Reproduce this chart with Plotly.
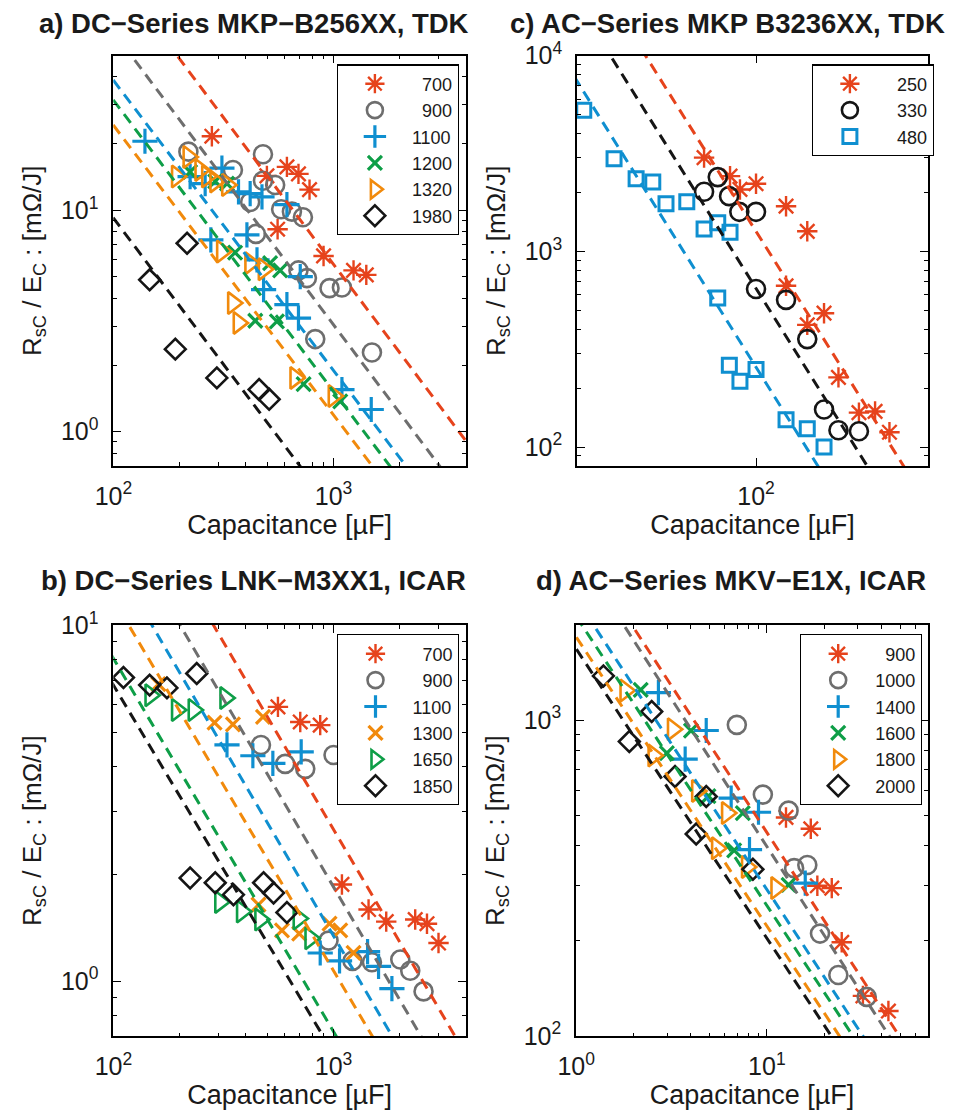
import numpy as np
import plotly.graph_objects as go

FONT = "Arial, Liberation Sans, Helvetica, sans-serif"
RED = "#E6431C"
GRAY = "#6E6E6E"
BLUE = "#0F8FD0"
GREEN = "#0E9E47"
ORANGE = "#F18A0C"
BLACK = "#151515"
FS = "\u2007"  # figure space, pads legend numbers so they line up on the right

# ---------------- Panel a) DC-Series MKP-B256XX, TDK ----------------
a_700_C = [280, 498, 614, 693, 778, 557, 901, 1233, 1409]
a_700_R = [21.6, 14.3, 15.7, 14.6, 12.4, 8.21, 6.22, 5.35, 5.11]
a_900_C = [219, 349, 478, 478, 543, 418, 578, 647, 726, 444, 693, 757, 959, 1092, 826, 1495]
a_900_R = [18.4, 15.2, 17.9, 13.6, 13.0, 10.9, 10.1, 9.86, 9.3, 7.82, 5.35, 4.94, 4.45, 4.48, 2.62, 2.28]
a_1100_C = [139, 223, 311, 261, 370, 418, 473, 614, 404, 277, 449, 481, 614, 693, 706, 1092, 1484]
a_1100_R = [20.5, 14.2, 15.5, 13.2, 12.1, 11.9, 11.5, 10.6, 7.74, 7.35, 5.97, 4.38, 3.75, 3.26, 5.02, 1.55, 1.26]
a_1200_C = [223, 290, 328, 357, 515, 572, 441, 553, 731, 1073]
a_1200_R = [14.9, 13.5, 13.2, 6.44, 5.77, 5.35, 3.17, 3.15, 1.64, 1.37]
a_1320_C = [194, 219, 248, 266, 290, 328, 311, 418, 481, 349, 370, 670, 1000]
a_1320_R = [14.2, 17.4, 15.2, 14.2, 13.5, 13.0, 6.51, 5.77, 5.42, 3.81, 3.10, 1.75, 1.45]
a_1980_C = [216, 146, 191, 295, 459, 510]
a_1980_R = [7.10, 4.85, 2.36, 1.75, 1.55, 1.40]
# fit lines: R = k * (C / 1000) ** (-n)
a_fit_k = [5.70, 3.04, 1.89, 1.52, 1.19, 0.44]
a_fit_n = [1.326, 1.323, 1.310, 1.315, 1.308, 1.321]
a_names = ["700", "900", "1100", "1200", "1320", "1980"]

# ---------------- Panel b) DC-Series LNK-M3XX1, ICAR ----------------
b_700_C = [559, 706, 870, 1092, 1443, 1736, 2351, 2659, 3000]
b_700_R = [5.90, 5.35, 5.24, 1.87, 1.59, 1.47, 1.49, 1.45, 1.28]
b_900_C = [468, 603, 744, 1000, 949, 1220, 1495, 2011, 2232, 2565]
b_900_R = [4.61, 4.08, 3.95, 4.32, 1.30, 1.14, 1.13, 1.15, 1.07, 0.936]
b_1100_C = [328, 430, 530, 713, 870, 1065, 1428, 1602, 1842]
b_1100_R = [4.61, 4.30, 4.09, 4.41, 1.20, 1.14, 1.21, 1.10, 0.953]
b_1300_C = [160, 288, 349, 478, 456, 583, 698, 959, 1073, 1233]
b_1300_R = [6.83, 5.33, 5.27, 5.53, 1.64, 1.39, 1.36, 1.45, 1.39, 1.20]
b_1650_C = [147, 194, 231, 322, 305, 383, 464, 693, 784]
b_1650_R = [6.36, 5.78, 5.78, 6.25, 1.67, 1.57, 1.49, 1.50, 1.32]
b_1850_C = [111, 146, 175, 239, 223, 290, 351, 481, 534, 614]
b_1850_R = [7.13, 6.79, 6.67, 7.32, 1.95, 1.89, 1.75, 1.89, 1.77, 1.56]
b_fit_k = [2.67, 1.84, 1.34, 1.07, 0.722, 0.626]
b_fit_n = [1.052, 1.055, 1.058, 1.043, 1.048, 1.035]
b_names = ["700", "900", "1100", "1300", "1650", "1850"]

# ---------------- Panel c) AC-Series MKP B3236XX, TDK ----------------
c_250_C = [62.1, 78.8, 86.3, 100, 131.7, 160, 131.7, 160, 186.6, 213, 257, 298, 340]
c_250_R = [3013, 2424, 2072, 2216, 1701, 1266, 667, 421, 483, 227, 150, 152, 119]
c_330_C = [62.1, 70.4, 78.1, 85.8, 100, 100, 131.7, 160, 186.6, 213, 257]
c_330_R = [2017, 2395, 1915, 1592, 1592, 642, 565, 356, 155.5, 121.8, 120.4]
c_480_C = [20.6, 27.2, 33.3, 38.8, 43.8, 53.0, 62.1, 70.4, 78.8, 70.4, 78.3, 86.3, 100, 131.7, 160, 186.6]
c_480_R = [5266, 2977, 2351, 2259, 1750, 1792, 1302, 1399, 1251, 577, 262, 217, 249, 138, 124, 100]
# fit lines: R = k * (C / 100) ** (-n)
c_fit_k = [1265, 647, 256]
c_fit_n = [2.04, 2.05, 2.05]
c_names = ["250", "330", "480"]

# ---------------- Panel d) AC-Series MKV-E1X, ICAR ----------------
d_900_C = [12.6, 17.0, 18.4, 21.9, 24.7, 31.9, 43.4]
d_900_R = [492, 453, 299, 294, 198, 134, 120]
d_1000_C = [6.96, 9.53, 13.0, 13.9, 16.3, 19.0, 23.7, 33.4]
d_1000_R = [966, 581, 517, 340, 348, 211, 156, 133]
d_1400_C = [2.70, 4.81, 3.73, 6.50, 9.04, 8.11, 15.9]
d_1400_R = [1222, 927, 753, 566, 511, 389, 305]
d_1600_C = [2.18, 4.00, 2.99, 4.94, 7.48, 6.74, 13.0]
d_1600_R = [1247, 927, 786, 575, 508, 387, 301]
d_1800_C = [1.81, 3.21, 2.54, 4.30, 6.17, 5.47, 7.85, 11.2]
d_1800_R = [1241, 936, 773, 597, 508, 393, 343, 294]
d_2000_C = [1.39, 2.49, 1.90, 3.30, 4.81, 4.26, 8.45]
d_2000_R = [1380, 1064, 855, 663, 573, 436, 337]
# fit lines: R = k * (C / 10) ** (-n)
d_fit_k = [441, 398, 291, 259, 223, 204]
d_fit_n = [0.928, 0.934, 0.921, 0.915, 0.915, 0.916]
d_names = ["900", "1000", "1400", "1600", "1800", "2000"]

# ---------------- axis ranges (log10) and labelled decades ----------------
a_xr = [np.log10(100) - 0.0008, np.log10(4000)]
a_yr = [np.log10(0.7), np.log10(50)]
b_xr = [np.log10(100) - 0.0008, np.log10(4000)]
b_yr = [np.log10(0.7), np.log10(10) + 0.0008]
c_xr = [1.287, 2.685]
c_yr = [np.log10(80), np.log10(10000) + 0.0008]
d_xr = [np.log10(1) - 0.0008, np.log10(70)]
d_yr = [np.log10(100) - 0.0008, np.log10(2000)]
a_xdec, a_ydec = [2, 3], [0, 1]
b_xdec, b_ydec = [2, 3], [0, 1]
c_xdec, c_ydec = [2], [2, 3, 4]
d_xdec, d_ydec = [0, 1], [2, 3]

# styles: symbol, size, line width
STY = {
    "star": ("asterisk-open", 17, 2.4),
    "circle": ("circle-open", 18, 2.6),
    "plus": ("cross-thin-open", 18, 3.2),
    "x": ("x-thin-open", 14, 3.2),
    "tri": ("triangle-right-open", 19, 2.6),
    "dia": ("diamond-open", 16, 2.6),
    "sq": ("square-open", 14, 3.0),
}

fig = go.Figure()


def add_panel(xa, ya, leg, names, Cs, Rs, kind, colors, ks, ns, cref, xr):
    for name, C, R, kd, col in zip(names, Cs, Rs, kind, colors):
        sym, sz, lw = STY[kd]
        fig.add_trace(go.Scatter(
            x=C, y=R, mode="markers", name=FS * (4 - len(name)) + name,
            legend=leg, xaxis=xa, yaxis=ya,
            marker=dict(symbol=sym, size=sz, color=col,
                        line=dict(color=col, width=lw))))
    cc = np.logspace(xr[0] - 0.05, xr[1] + 0.05, 80)
    for k, n, col in zip(ks, ns, colors):
        fig.add_trace(go.Scatter(
            x=cc, y=k * (cc / cref) ** (-n), mode="lines", showlegend=False,
            xaxis=xa, yaxis=ya, hoverinfo="skip",
            line=dict(color=col, width=3, dash="11px,7px")))


add_panel("x", "y", "legend", a_names,
          [a_700_C, a_900_C, a_1100_C, a_1200_C, a_1320_C, a_1980_C],
          [a_700_R, a_900_R, a_1100_R, a_1200_R, a_1320_R, a_1980_R],
          ["star", "circle", "plus", "x", "tri", "dia"],
          [RED, GRAY, BLUE, GREEN, ORANGE, BLACK], a_fit_k, a_fit_n, 1000, a_xr)
add_panel("x2", "y2", "legend2", c_names,
          [c_250_C, c_330_C, c_480_C], [c_250_R, c_330_R, c_480_R],
          ["star", "circle", "sq"], [RED, BLACK, BLUE], c_fit_k, c_fit_n, 100, c_xr)
add_panel("x3", "y3", "legend3", b_names,
          [b_700_C, b_900_C, b_1100_C, b_1300_C, b_1650_C, b_1850_C],
          [b_700_R, b_900_R, b_1100_R, b_1300_R, b_1650_R, b_1850_R],
          ["star", "circle", "plus", "x", "tri", "dia"],
          [RED, GRAY, BLUE, ORANGE, GREEN, BLACK], b_fit_k, b_fit_n, 1000, b_xr)
add_panel("x4", "y4", "legend4", d_names,
          [d_900_C, d_1000_C, d_1400_C, d_1600_C, d_1800_C, d_2000_C],
          [d_900_R, d_1000_R, d_1400_R, d_1600_R, d_1800_R, d_2000_R],
          ["star", "circle", "plus", "x", "tri", "dia"],
          [RED, GRAY, BLUE, GREEN, ORANGE, BLACK], d_fit_k, d_fit_n, 10, d_xr)

W, H = 977, 1113


def px(x):
    return x / W


def py(y):
    return 1 - y / H


def minor_vals(rng):
    vals = []
    for e in range(int(np.floor(rng[0])) - 1, int(np.ceil(rng[1])) + 1):
        for m in range(2, 10):
            v = m * 10.0 ** e
            if rng[0] < np.log10(v) < rng[1]:
                vals.append(v)
    return vals


def ax(rng, decs, dom, anchor, title, standoff, side, minor=True):
    is_x = anchor.startswith("y")
    return dict(type="log", range=rng, domain=dom, anchor=anchor, automargin=False,
                showline=True, linecolor="black", linewidth=1.6, mirror="ticks",
                ticks="inside", ticklen=8, tickwidth=1.2, tickcolor="black",
                tickmode="array", tickvals=[10.0 ** d for d in decs],
                ticktext=["10<sup>%d</sup>" % d for d in decs],
                showgrid=False, zeroline=False,
                minor=dict(tickmode="array", tickvals=minor_vals(rng) if minor else [],
                           ticks="inside" if minor else "",
                           ticklen=4, tickwidth=1, tickcolor="black", showgrid=False),
                tickfont=dict(size=25, color="#1a1a1a", family=FONT),
                ticklabelstandoff=side,
                title=dict(text=title, standoff=standoff,
                           font=dict(size=27 if is_x else 26,
                                     color="#1a1a1a", family=FONT)))


XT = "Capacitance [\u00b5F]"
YT = "R<sub>sC</sub> / E<sub>C</sub> : [m\u03a9/J]"

dxa = [px(113.3), px(466)]
dxc = [px(577), px(928)]
dxd = [px(576), px(928)]
dyt = [py(466), py(55.5)]
dyb = [py(1036.3), py(625)]

legend_style = dict(font=dict(size=18, family=FONT, color="#1a1a1a"),
                    bordercolor="black", borderwidth=1.2, bgcolor="white",
                    xanchor="left", yanchor="top", itemwidth=64, tracegroupgap=0)

fig.update_layout(
    template="none",
    width=W, height=H, margin=dict(l=0, r=0, t=0, b=0, autoexpand=False),
    paper_bgcolor="white", plot_bgcolor="white",
    font=dict(family=FONT, color="#1a1a1a"),
    xaxis=ax(a_xr, a_xdec, dxa, "y", XT, 2, 7), yaxis=ax(a_yr, a_ydec, dyt, "x", YT, 12, 8),
    xaxis2=ax(c_xr, c_xdec, dxc, "y2", XT, 2, 7, minor=False),
    yaxis2=ax(c_yr, c_ydec, dyt, "x2", YT, 12, 8),
    xaxis3=ax(b_xr, b_xdec, dxa, "y3", XT, 2, 7), yaxis3=ax(b_yr, b_ydec, dyb, "x3", YT, 12, 8),
    xaxis4=ax(d_xr, d_xdec, dxd, "y4", XT, 2, 7), yaxis4=ax(d_yr, d_ydec, dyb, "x4", YT, 12, 8),
    legend=dict(x=px(336.7), y=py(64.3), **legend_style),
    legend2=dict(x=px(811.7), y=py(64.3), **legend_style),
    legend3=dict(x=px(337.3), y=py(634.3), **legend_style),
    legend4=dict(x=px(800), y=py(634.3), **legend_style),
)

titles = [("a) DC\u2212Series MKP\u2212B256XX, TDK", 254, 23),
          ("c) AC\u2212Series MKP B3236XX, TDK", 727, 23),
          ("b) DC\u2212Series LNK\u2212M3XX1, ICAR", 253, 580),
          ("d) AC\u2212Series MKV\u2212E1X, ICAR", 731, 580)]
for t, x, y in titles:
    fig.add_annotation(text="<b>" + t + "</b>", x=px(x), y=py(y), xref="paper", yref="paper",
                       xanchor="center", yanchor="middle", showarrow=False,
                       font=dict(size=27.5, family=FONT, color="#1a1a1a"))

fig.write_html("out.html")
